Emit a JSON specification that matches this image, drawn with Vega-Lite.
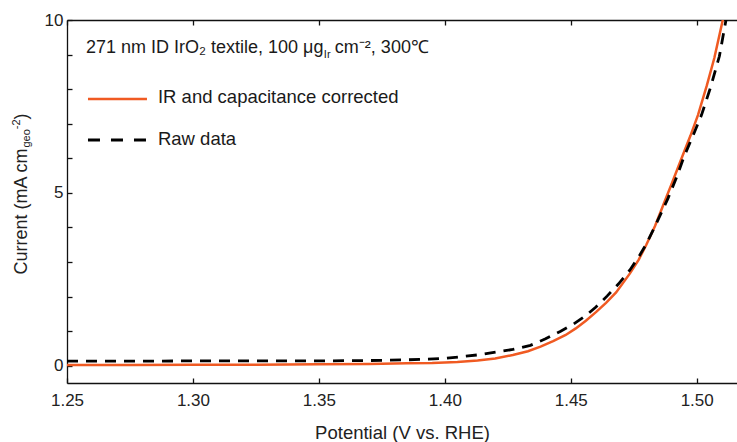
{
  "$schema": "https://vega.github.io/schema/vega-lite/v6.json",
  "width": 670,
  "height": 363,
  "autosize": {"type": "none"},
  "padding": {"left": 67, "top": 20, "right": 0, "bottom": 59},
  "background": "white",
  "config": {
    "view": {"stroke": null},
    "font": "Liberation Sans",
    "axis": {
      "grid": false,
      "domainColor": "#111",
      "domainWidth": 1.3,
      "tickColor": "#111",
      "tickWidth": 1.3,
      "labelFont": "Liberation Sans",
      "labelFontSize": 17,
      "labelColor": "#222",
      "labelFlush": false,
      "titleFont": "Liberation Sans",
      "titleFontSize": 18.5,
      "titleFontWeight": "normal",
      "titleColor": "#222"
    }
  },
  "data": {
    "values": [
      {"potential": 1.25, "current": 0.02, "series": "IR and capacitance corrected"},
      {"potential": 1.275, "current": 0.02, "series": "IR and capacitance corrected"},
      {"potential": 1.3, "current": 0.03, "series": "IR and capacitance corrected"},
      {"potential": 1.325, "current": 0.03, "series": "IR and capacitance corrected"},
      {"potential": 1.35, "current": 0.04, "series": "IR and capacitance corrected"},
      {"potential": 1.37, "current": 0.05, "series": "IR and capacitance corrected"},
      {"potential": 1.385, "current": 0.07, "series": "IR and capacitance corrected"},
      {"potential": 1.395, "current": 0.08, "series": "IR and capacitance corrected"},
      {"potential": 1.405, "current": 0.11, "series": "IR and capacitance corrected"},
      {"potential": 1.413, "current": 0.15, "series": "IR and capacitance corrected"},
      {"potential": 1.42, "current": 0.21, "series": "IR and capacitance corrected"},
      {"potential": 1.427, "current": 0.31, "series": "IR and capacitance corrected"},
      {"potential": 1.433, "current": 0.42, "series": "IR and capacitance corrected"},
      {"potential": 1.438, "current": 0.55, "series": "IR and capacitance corrected"},
      {"potential": 1.443, "current": 0.71, "series": "IR and capacitance corrected"},
      {"potential": 1.448, "current": 0.89, "series": "IR and capacitance corrected"},
      {"potential": 1.452, "current": 1.08, "series": "IR and capacitance corrected"},
      {"potential": 1.456, "current": 1.3, "series": "IR and capacitance corrected"},
      {"potential": 1.46, "current": 1.55, "series": "IR and capacitance corrected"},
      {"potential": 1.464, "current": 1.82, "series": "IR and capacitance corrected"},
      {"potential": 1.468, "current": 2.12, "series": "IR and capacitance corrected"},
      {"potential": 1.4735, "current": 2.67, "series": "IR and capacitance corrected"},
      {"potential": 1.477, "current": 3.07, "series": "IR and capacitance corrected"},
      {"potential": 1.48, "current": 3.5, "series": "IR and capacitance corrected"},
      {"potential": 1.4835, "current": 4.05, "series": "IR and capacitance corrected"},
      {"potential": 1.487, "current": 4.7, "series": "IR and capacitance corrected"},
      {"potential": 1.49, "current": 5.25, "series": "IR and capacitance corrected"},
      {"potential": 1.494, "current": 6.0, "series": "IR and capacitance corrected"},
      {"potential": 1.4975, "current": 6.65, "series": "IR and capacitance corrected"},
      {"potential": 1.5005, "current": 7.25, "series": "IR and capacitance corrected"},
      {"potential": 1.504, "current": 8.1, "series": "IR and capacitance corrected"},
      {"potential": 1.507, "current": 8.9, "series": "IR and capacitance corrected"},
      {"potential": 1.5102, "current": 9.95, "series": "IR and capacitance corrected"},
      {"potential": 1.5115, "current": 10.3, "series": "IR and capacitance corrected"},
      {"potential": 1.25, "current": 0.13, "series": "Raw data"},
      {"potential": 1.275, "current": 0.13, "series": "Raw data"},
      {"potential": 1.3, "current": 0.14, "series": "Raw data"},
      {"potential": 1.325, "current": 0.14, "series": "Raw data"},
      {"potential": 1.35, "current": 0.14, "series": "Raw data"},
      {"potential": 1.37, "current": 0.15, "series": "Raw data"},
      {"potential": 1.385, "current": 0.17, "series": "Raw data"},
      {"potential": 1.4, "current": 0.21, "series": "Raw data"},
      {"potential": 1.414, "current": 0.32, "series": "Raw data"},
      {"potential": 1.427, "current": 0.47, "series": "Raw data"},
      {"potential": 1.434, "current": 0.59, "series": "Raw data"},
      {"potential": 1.44, "current": 0.78, "series": "Raw data"},
      {"potential": 1.446, "current": 1.0, "series": "Raw data"},
      {"potential": 1.451, "current": 1.2, "series": "Raw data"},
      {"potential": 1.456, "current": 1.45, "series": "Raw data"},
      {"potential": 1.46, "current": 1.7, "series": "Raw data"},
      {"potential": 1.4645, "current": 2.02, "series": "Raw data"},
      {"potential": 1.469, "current": 2.37, "series": "Raw data"},
      {"potential": 1.4735, "current": 2.77, "series": "Raw data"},
      {"potential": 1.477, "current": 3.15, "series": "Raw data"},
      {"potential": 1.48, "current": 3.52, "series": "Raw data"},
      {"potential": 1.484, "current": 4.12, "series": "Raw data"},
      {"potential": 1.4886, "current": 4.84, "series": "Raw data"},
      {"potential": 1.492, "current": 5.45, "series": "Raw data"},
      {"potential": 1.495, "current": 6.05, "series": "Raw data"},
      {"potential": 1.4985, "current": 6.65, "series": "Raw data"},
      {"potential": 1.5019, "current": 7.25, "series": "Raw data"},
      {"potential": 1.5055, "current": 8.05, "series": "Raw data"},
      {"potential": 1.509, "current": 8.95, "series": "Raw data"},
      {"potential": 1.5115, "current": 9.95, "series": "Raw data"},
      {"potential": 1.5125, "current": 10.3, "series": "Raw data"}
    ]
  },
  "resolve": {"axis": {"x": "independent", "y": "independent"}},
  "layer": [
    {
      "transform": [{"filter": "datum.series === 'IR and capacitance corrected'"}],
      "mark": {"type": "line", "color": "#F05A22", "strokeWidth": 2.5, "clip": true},
      "encoding": {
        "x": {
          "field": "potential", "type": "quantitative",
          "scale": {"domain": [1.25, 1.516], "nice": false, "zero": false},
          "axis": {
            "orient": "bottom",
            "values": [1.25, 1.3, 1.35, 1.4, 1.45, 1.5],
            "format": ".2f",
            "tickSize": -5,
            "labelPadding": 14,
            "title": "Potential (V vs. RHE)",
            "titleBaseline": "alphabetic",
            "titleY": 55
          }
        },
        "y": {
          "field": "current", "type": "quantitative",
          "scale": {"domain": [-0.5, 10], "nice": false, "zero": false},
          "axis": {
            "orient": "left",
            "values": [0, 1, 2, 3, 4, 5, 6, 7, 8, 9, 10],
            "labelExpr": "datum.value % 5 === 0 ? datum.label : ''",
            "tickSize": -5,
            "labelPadding": 9,
            "title": null
          }
        }
      }
    },
    {
      "transform": [{"filter": "datum.series === 'Raw data'"}],
      "mark": {"type": "line", "color": "#000000", "strokeWidth": 2.8, "strokeDash": [11, 8], "clip": true},
      "encoding": {
        "x": {
          "field": "potential", "type": "quantitative",
          "axis": {
            "orient": "top",
            "values": [1.25, 1.3, 1.35, 1.4, 1.45, 1.5],
            "labels": false,
            "tickSize": -5,
            "title": null
          }
        },
        "y": {"field": "current", "type": "quantitative", "axis": null}
      }
    },
    {
      "data": {"values": [{}]},
      "mark": {"type": "rule", "color": "#F05A22", "strokeWidth": 2.5},
      "encoding": {
        "x": {"datum": 1.25833, "axis": null},
        "x2": {"datum": 1.28175},
        "y": {"datum": 7.715, "axis": null}
      }
    },
    {
      "data": {"values": [{}]},
      "mark": {"type": "rule", "color": "#000000", "strokeWidth": 2.8, "strokeDash": [12, 11]},
      "encoding": {
        "x": {"datum": 1.25833, "axis": null},
        "x2": {"datum": 1.28175},
        "y": {"datum": 6.529, "axis": null}
      }
    },
    {
      "data": {"values": [{}]},
      "mark": {"type": "text", "text": "IR and capacitance corrected", "align": "left", "baseline": "alphabetic", "fontSize": 18.5, "font": "Liberation Sans", "color": "#1a1a1a"},
      "encoding": {
        "x": {"datum": 1.28611, "axis": null},
        "y": {"datum": 7.59, "axis": null}
      }
    },
    {
      "data": {"values": [{}]},
      "mark": {"type": "text", "text": "Raw data", "align": "left", "baseline": "alphabetic", "fontSize": 18.5, "font": "Liberation Sans", "color": "#1a1a1a"},
      "encoding": {
        "x": {"datum": 1.28611, "axis": null},
        "y": {"datum": 6.385, "axis": null}
      }
    },
    {
      "data": {"values": [{}]},
      "mark": {"type": "text", "text": "271 nm ID IrO₂ textile, 100 μg", "align": "left", "baseline": "alphabetic", "fontSize": 18, "font": "Liberation Sans", "color": "#1a1a1a"},
      "encoding": {
        "x": {"datum": 1.25754, "axis": null},
        "y": {"datum": 9.037, "axis": null}
      }
    },
    {
      "data": {"values": [{}]},
      "mark": {"type": "text", "text": "Ir", "align": "left", "baseline": "alphabetic", "fontSize": 11, "font": "Liberation Sans", "color": "#1a1a1a"},
      "encoding": {
        "x": {"datum": 1.35198, "axis": null},
        "y": {"datum": 8.892, "axis": null}
      }
    },
    {
      "data": {"values": [{}]},
      "mark": {"type": "text", "text": "cm⁻², 300℃", "align": "left", "baseline": "alphabetic", "fontSize": 18, "font": "Liberation Sans", "color": "#1a1a1a"},
      "encoding": {
        "x": {"datum": 1.35635, "axis": null},
        "y": {"datum": 9.037, "axis": null}
      }
    },
    {
      "data": {"values": [{}]},
      "mark": {"type": "text", "text": "Current (mA cm", "align": "left", "baseline": "middle", "angle": 270, "fontSize": 18, "font": "Liberation Sans", "color": "#222"},
      "encoding": {
        "x": {"datum": 1.23202, "axis": null},
        "y": {"datum": 2.638, "axis": null}
      }
    },
    {
      "data": {"values": [{}]},
      "mark": {"type": "text", "text": "geo", "align": "left", "baseline": "middle", "angle": 270, "fontSize": 11, "font": "Liberation Sans", "color": "#222"},
      "encoding": {
        "x": {"datum": 1.23401, "axis": null},
        "y": {"datum": 6.312, "axis": null}
      }
    },
    {
      "data": {"values": [{}]},
      "mark": {"type": "text", "text": "-2", "align": "left", "baseline": "middle", "angle": 270, "fontSize": 11, "font": "Liberation Sans", "color": "#222"},
      "encoding": {
        "x": {"datum": 1.23004, "axis": null},
        "y": {"datum": 6.841, "axis": null}
      }
    },
    {
      "data": {"values": [{}]},
      "mark": {"type": "text", "text": ")", "align": "left", "baseline": "middle", "angle": 270, "fontSize": 18, "font": "Liberation Sans", "color": "#222"},
      "encoding": {
        "x": {"datum": 1.23202, "axis": null},
        "y": {"datum": 7.125, "axis": null}
      }
    }
  ]
}
